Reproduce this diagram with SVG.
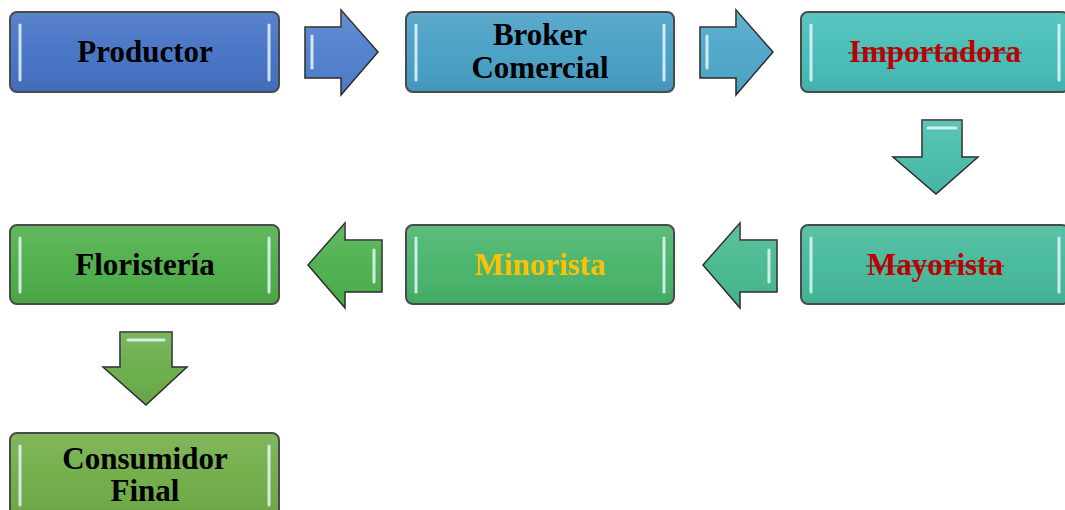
<svg xmlns="http://www.w3.org/2000/svg" width="1065" height="510" viewBox="0 0 1065 510">
<style>
.box{stroke:#4a4a4a;stroke-width:2}
.gl{fill:url(#gloss)}
.hl{stroke:#e6f6ff;stroke-width:3;stroke-linecap:round;opacity:0.85}
.t{font-family:"Liberation Serif","Times New Roman",serif;font-weight:bold;font-size:31px;text-anchor:middle}
.ar{stroke:#2a2a2a;stroke-width:1.5}
.strike{stroke:#7a1a1a;stroke-width:2;opacity:0.55}
</style>
<defs>
<linearGradient id="gloss" x1="0" y1="0" x2="0" y2="1">
<stop offset="0" stop-color="#fff" stop-opacity="0.12"/>
<stop offset="0.5" stop-color="#fff" stop-opacity="0.03"/>
<stop offset="1" stop-color="#000" stop-opacity="0.06"/>
</linearGradient>
</defs>
<g id="connectors">
<g id="a1"><path class="ar" fill="#4f7fcc" d="M305,27 H341 V10 L378,52 L341,95 V78 H305 Z"/><path class="gl" d="M305,27 H341 V10 L378,52 L341,95 V78 H305 Z"/><path class="hl" d="M312,36 V68"/></g>
<g id="a2"><path class="ar" fill="#4ea6c8" d="M700,27 H736 V10 L773,52 L736,95 V78 H700 Z"/><path class="gl" d="M700,27 H736 V10 L773,52 L736,95 V78 H700 Z"/><path class="hl" d="M707,36 V68"/></g>
<g id="a3"><path class="ar" fill="#48bdaa" d="M922,120 H962 V157 H978 L936,194 L893,157 H922 Z"/><path class="gl" d="M922,120 H962 V157 H978 L936,194 L893,157 H922 Z"/><path class="hl" d="M928,128 H956"/></g>
<g id="a4"><path class="ar" fill="#48b98f" d="M777,240 V292 H740 V308 L703,265 L740,223 V240 Z"/><path class="gl" d="M777,240 V292 H740 V308 L703,265 L740,223 V240 Z"/><path class="hl" d="M769,250 V282"/></g>
<g id="a5"><path class="ar" fill="#4db04e" d="M382,240 V292 H345 V308 L308,265 L345,223 V240 Z"/><path class="gl" d="M382,240 V292 H345 V308 L308,265 L345,223 V240 Z"/><path class="hl" d="M374,250 V282"/></g>
<g id="a6"><path class="ar" fill="#6aad4a" d="M120,332 H172 V367 H187 L146,405 L103,367 H120 Z"/><path class="gl" d="M120,332 H172 V367 H187 L146,405 L103,367 H120 Z"/><path class="hl" d="M128,340 H164"/></g>
</g>
<g id="productor"><rect class="box" x="10" y="12" width="269" height="80" rx="7" fill="#4472c4"/><rect class="gl" x="11" y="13" width="267" height="78" rx="6"/><path class="hl" d="M20,25 V80 M269,25 V80"/><text class="t" x="145" y="62" fill="#000">Productor</text></g>
<g id="broker"><rect class="box" x="406" y="12" width="268" height="80" rx="7" fill="#479fc5"/><rect class="gl" x="407" y="13" width="266" height="78" rx="6"/><path class="hl" d="M416,25 V80 M664,25 V80"/><text class="t" x="540" y="45" fill="#000">Broker</text><text class="t" x="540" y="78" fill="#000">Comercial</text></g>
<g id="importadora"><rect class="box" x="801" y="12" width="268" height="80" rx="7" fill="#45bdb7"/><rect class="gl" x="802" y="13" width="266" height="78" rx="6"/><path class="hl" d="M811,25 V80 M1059,25 V80"/><text class="t" x="935" y="62" fill="#c00000">Importadora</text><path class="strike" d="M848,53 H1022"/></g>
<g id="mayorista"><rect class="box" x="801" y="225" width="268" height="79" rx="7" fill="#45b99a"/><rect class="gl" x="802" y="226" width="266" height="77" rx="6"/><path class="hl" d="M811,238 V292 M1059,238 V292"/><text class="t" x="935" y="275" fill="#c00000">Mayorista</text><path class="strike" d="M866,266 H1004"/></g>
<g id="minorista"><rect class="box" x="406" y="225" width="268" height="79" rx="7" fill="#47b46a"/><rect class="gl" x="407" y="226" width="266" height="77" rx="6"/><path class="hl" d="M416,238 V292 M664,238 V292"/><text class="t" x="540" y="275" fill="#ffc000">Minorista</text></g>
<g id="floristeria"><rect class="box" x="10" y="225" width="269" height="79" rx="7" fill="#4dae48"/><rect class="gl" x="11" y="226" width="267" height="77" rx="6"/><path class="hl" d="M20,238 V292 M269,238 V292"/><text class="t" x="145" y="275" fill="#000">Floristería</text></g>
<g id="consumidor"><rect class="box" x="10" y="433" width="269" height="85" rx="7" fill="#70ad47"/><rect class="gl" x="11" y="434" width="267" height="83" rx="6"/><path class="hl" d="M20,446 V505 M269,446 V505"/><text class="t" x="145" y="469" fill="#000">Consumidor</text><text class="t" x="145" y="501" fill="#000">Final</text></g>
</svg>
